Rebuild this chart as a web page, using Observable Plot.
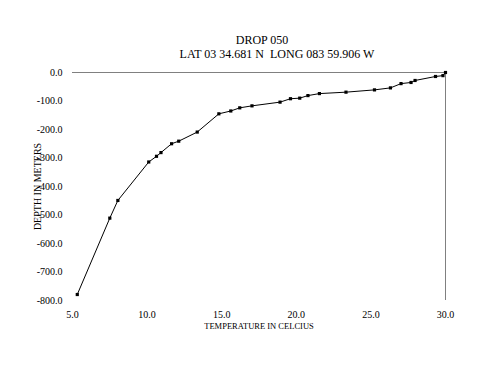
<!DOCTYPE html>
<html><head><meta charset="utf-8">
<script src="https://cdn.jsdelivr.net/npm/d3@7"></script>
<script src="https://cdn.jsdelivr.net/npm/@observablehq/plot@0.6"></script>
<style>
body{margin:0;background:#fff;}
#wrap{position:relative;width:500px;height:386px;font-family:"Liberation Serif","Times New Roman",serif;}
#wrap svg{position:absolute;left:0;top:0;}
.t{position:absolute;white-space:pre;font-size:12px;line-height:12px;color:#000;transform:translateX(-50%);}
</style></head><body>
<div id="wrap"></div>
<script>
const titleText = "DROP 050";
const subtitleText = "LAT 03 34.681 N  LONG 083 59.906 W";
const xLabel = "TEMPERATURE IN CELCIUS";
const yLabel = "DEPTH IN METERS";

const temperature = [30.0, 29.83, 29.33, 27.96, 27.69, 27.02, 26.31, 25.24, 23.33, 21.55, 20.78, 20.23, 19.61, 18.91, 17.03, 16.21, 15.61, 14.81, 13.36, 12.12, 11.64, 10.93, 10.63, 10.11, 8.04, 7.50, 5.32];
const depth = [0, -11, -14, -28, -35, -39, -54, -61, -69, -74, -81, -90, -92, -104, -117, -124, -135, -145, -209, -241, -250, -281, -294, -314, -449, -511, -779];

const xTicks = [5, 10, 15, 20, 25, 30];
const yTicks = [0, -100, -200, -300, -400, -500, -600, -700, -800];

const data = temperature.map((t, i) => ({t, d: depth[i]}));

const chart = Plot.plot({
  width: 500,
  height: 386,
  marginTop: 72,
  marginBottom: 86,
  marginLeft: 72,
  marginRight: 55,
  style: {fontFamily: '"Liberation Serif","Times New Roman",serif', background: "white"},
  x: {domain: [5, 30]},
  y: {domain: [-800, 0]},
  marks: [
    Plot.ruleY([0], {stroke: "#808080", strokeWidth: 1}),
    Plot.ruleX([30], {stroke: "#808080", strokeWidth: 1}),
    Plot.axisX({ticks: xTicks, tickFormat: d => d.toFixed(1), tickSize: 0, tickPadding: 10, fontSize: 10, label: null}),
    Plot.axisY({ticks: yTicks, tickFormat: d => d.toFixed(1), tickSize: 0, tickPadding: 10, fontSize: 10, label: null}),
    Plot.line(data, {x: "t", y: "d", stroke: "black", strokeWidth: 1}),
    Plot.dot(data, {x: "t", y: "d", symbol: "square", r: 1.8, fill: "black", stroke: "none"}),
    Plot.text([xLabel], {frameAnchor: "bottom", dy: 28, fontSize: 8.5, fill: "black"}),
    Plot.text([yLabel], {frameAnchor: "left", textAnchor: "middle", dx: -35, rotate: -90, fontSize: 10, fill: "black"})
  ]
});
const wrap = document.getElementById("wrap");
wrap.appendChild(chart);
for (const [txt, left, top] of [[titleText, 262, 34], [subtitleText, 277, 48]]) {
  const d = document.createElement("div");
  d.className = "t";
  d.textContent = txt;
  d.style.left = left + "px";
  d.style.top = top + "px";
  wrap.appendChild(d);
}
</script>
</body></html>
